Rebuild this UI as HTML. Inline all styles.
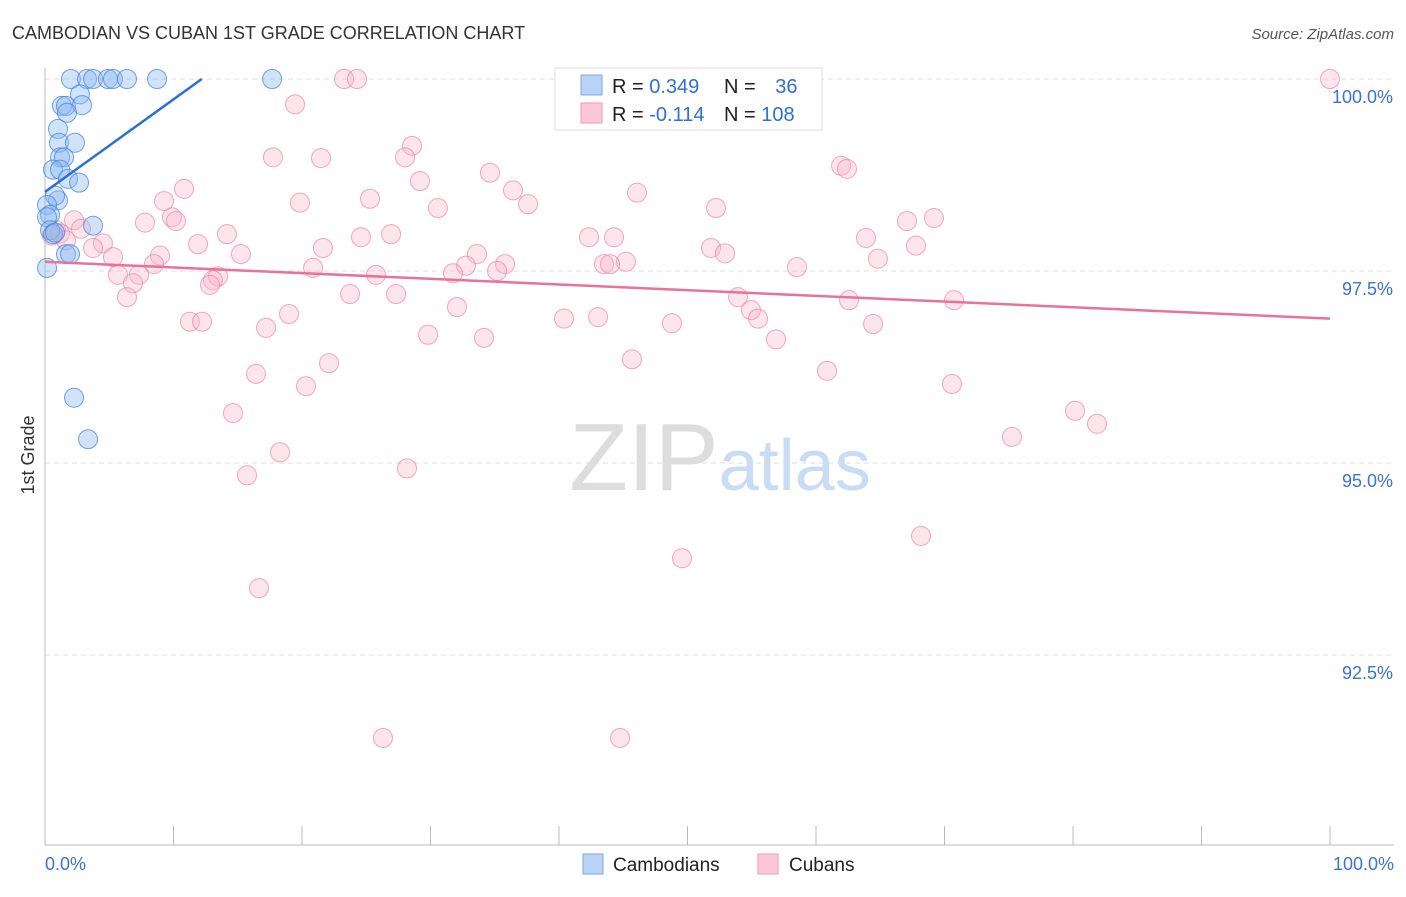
<!DOCTYPE html>
<html><head><meta charset="utf-8">
<style>
body{margin:0;background:#fff;font-family:"Liberation Sans",sans-serif;}
svg text{font-family:"Liberation Sans",sans-serif;}
</style></head>
<body>
<svg id="chart" width="1406" height="892" viewBox="0 0 1406 892" xmlns="http://www.w3.org/2000/svg">
<text x="12" y="39" font-size="18" fill="#333">CAMBODIAN VS CUBAN 1ST GRADE CORRELATION CHART</text>
<text x="1394" y="39" font-size="15" fill="#555" text-anchor="end" font-style="italic">Source: ZipAtlas.com</text>
<text x="720" y="490" font-size="96" text-anchor="middle" fill="#ddd" font-family="Liberation Serif,serif">ZIP<tspan fill="#c8dcf4" font-family="Liberation Sans,sans-serif" font-size="72">atlas</tspan></text>
<text transform="translate(34,455) rotate(-90)" font-size="18" fill="#333" text-anchor="middle">1st Grade</text>
<g id="grid"></g>
<g id="pts"></g>
<g id="lines"></g>
<g>
<rect x="555" y="68" width="267" height="62" fill="#fff" stroke="#ddd"/>
<rect x="581" y="75" width="21" height="20" fill="#b8d3f5" stroke="#7aa8e6"/>
<rect x="581" y="103" width="21" height="20" fill="#fcc8d8" stroke="#ee9ab5"/>
<text x="612" y="93" font-size="20" fill="#222">R = <tspan fill="#2f6fd6">0.349</tspan></text>
<text x="724" y="93" font-size="20" fill="#222">N = <tspan fill="#2f6fd6" dx="14">36</tspan></text>
<text x="612" y="121" font-size="20" fill="#222">R = <tspan fill="#2f6fd6">-0.114</tspan></text>
<text x="724" y="121" font-size="20" fill="#222">N = <tspan fill="#2f6fd6">108</tspan></text>
</g>
<g>
<rect x="583" y="854" width="20" height="20" fill="#b8d3f5" stroke="#7aa8e6"/>
<text x="613" y="871" font-size="19" fill="#222">Cambodians</text>
<rect x="758" y="854" width="20" height="20" fill="#fcc8d8" stroke="#ee9ab5"/>
<text x="789" y="871" font-size="19" fill="#222">Cubans</text>
</g>
<text x="45" y="870" font-size="18" fill="#3a72d6">0.0%</text>
<text x="1394" y="870" font-size="18" fill="#3a72d6" text-anchor="end">100.0%</text>
</svg>
<script>
const yTicks=[100,97.5,95,92.5];
const yTickLabels=["100.0%","97.5%","95.0%","92.5%"];
const xTicks=[0,10,20,30,40,50,60,70,80,90,100];
const camX=[2.02,3.27,3.74,4.9,5.29,6.38,8.72,17.67,2.72,1.32,1.63,2.88,1.71,1.01,1.09,2.33,1.17,1.48,0.62,1.17,1.79,2.65,1.01,0.78,0.16,0.39,0.16,0.39,0.62,3.74,1.63,1.95,0.16,2.26,3.35,0.78];
const camY=[100,100,100,100,100,100,100,100,99.8,99.65,99.65,99.66,99.56,99.35,99.17,99.17,98.98,98.98,98.82,98.82,98.7,98.65,98.42,98.48,98.36,98.23,98.2,98.03,97.98,98.09,97.72,97.72,97.54,95.85,95.31,98.0];
const cubX=[100,23.27,24.28,19.46,28.56,17.74,21.48,28.02,61.95,62.41,34.63,29.18,10.82,36.42,46.07,25.29,19.84,37.59,9.26,30.58,52.22,9.88,10.19,67.08,69.18,7.78,2.26,2.8,0.86,0.54,1.17,1.63,4.51,3.74,14.16,11.91,15.25,21.63,24.59,26.93,42.33,44.28,63.89,67.78,51.83,52.92,5.29,8.95,8.48,20.86,33.62,32.76,35.8,35.18,43.5,45.21,43.97,64.82,58.52,5.68,7.32,6.85,13.46,13.07,25.76,31.75,12.84,6.38,23.74,27.32,53.93,62.57,70.74,32.06,18.99,11.28,12.22,17.2,40.39,43.04,48.79,54.94,55.49,64.44,29.81,34.16,56.89,45.68,22.1,16.42,60.86,20.31,70.58,14.63,80.16,81.87,75.25,18.29,28.17,15.72,68.17,49.57,16.65,26.3,44.75];
const cubY=[100,100,100,99.67,99.13,98.98,98.97,98.98,98.87,98.83,98.78,98.67,98.57,98.55,98.52,98.44,98.39,98.37,98.41,98.32,98.32,98.2,98.15,98.15,98.19,98.13,98.16,98.05,98.03,97.96,97.99,97.9,97.86,97.8,97.98,97.85,97.72,97.8,97.94,97.98,97.94,97.94,97.93,97.83,97.8,97.73,97.68,97.7,97.59,97.54,97.72,97.57,97.59,97.5,97.59,97.62,97.59,97.66,97.55,97.45,97.45,97.34,97.43,97.38,97.45,97.47,97.32,97.16,97.2,97.2,97.16,97.12,97.12,97.03,96.94,96.84,96.84,96.76,96.88,96.9,96.82,96.99,96.88,96.81,96.67,96.63,96.61,96.35,96.3,96.16,96.2,96.0,96.03,95.65,95.68,95.51,95.34,95.14,94.93,94.84,94.05,93.76,93.37,91.42,91.42];
const camTrend=[[0,98.53],[12.2,100]];
const cubTrend=[[0,97.62],[100,96.88]];
const X=v=>45+v*12.85, Y=v=>79+(100-v)*76.8;
const NS="http://www.w3.org/2000/svg";
function mk(t,a,p){const e=document.createElementNS(NS,t);for(const k in a)e.setAttribute(k,a[k]);p.appendChild(e);return e;}
const grid=document.getElementById('grid');
yTicks.forEach((t,i)=>{
 const l=mk('line',{x1:45,x2:1394,y1:Y(t),y2:Y(t),stroke:'#ddd','stroke-dasharray':'5,4'},grid);
 
 
 const tx=mk('text',{x:1393,y:Y(t)+24,'font-size':18,fill:'#3a72d6','text-anchor':'end'},grid);
 tx.textContent=yTickLabels[i];
 
 
});
const ax=mk('line',{x1:45,x2:45,y1:68,y2:845,stroke:'#bbb'},grid);


const bx=mk('line',{x1:45,x2:1394,y1:845,y2:845,stroke:'#bbb'},grid);


xTicks.forEach(t=>{
 const l=mk('line',{x1:X(t),x2:X(t),y1:826,y2:845,stroke:'#bbb'},grid);
 
 
});
const pts=document.getElementById('pts');
cubX.forEach((x,i)=>{
 const c=mk('circle',{cx:X(x),cy:Y(cubY[i]),r:9.5,fill:'rgba(248,180,200,0.35)',stroke:'rgba(236,130,165,0.7)','stroke-width':1},pts);
 
 
});
camX.forEach((x,i)=>{
 const c=mk('circle',{cx:X(x),cy:Y(camY[i]),r:9.5,fill:'rgba(140,185,240,0.4)',stroke:'rgba(70,130,220,0.75)','stroke-width':1},pts);
 
 
});
const lines=document.getElementById('lines');
const l1=mk('line',{x1:X(camTrend[0][0]),y1:Y(camTrend[0][1]),x2:X(camTrend[1][0]),y2:Y(camTrend[1][1]),stroke:'#2a6fd6','stroke-width':2.5},lines);


const l2=mk('line',{x1:X(cubTrend[0][0]),y1:Y(cubTrend[0][1]),x2:X(cubTrend[1][0]),y2:Y(cubTrend[1][1]),stroke:'#e8729a','stroke-width':2.5},lines);


</script>
</body></html>
